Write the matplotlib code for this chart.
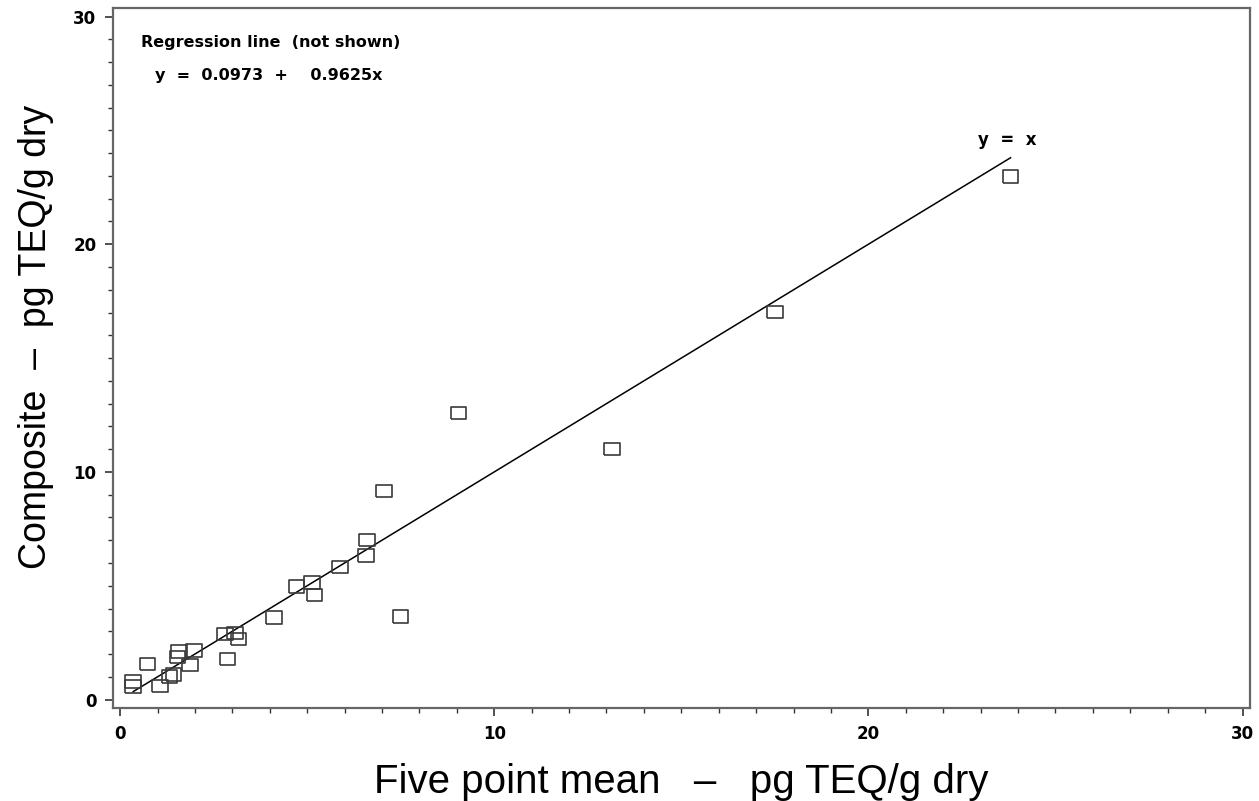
import matplotlib
matplotlib.use("Agg")
import matplotlib.pyplot as plt
from matplotlib.ticker import MultipleLocator

# five point mean vs composite, pg TEQ/g dry
five_point = [0.35, 0.35, 0.73, 1.07, 1.32, 1.43, 1.54, 1.58, 1.87, 1.98,
              2.87, 2.81, 3.07, 3.16, 4.12, 4.71, 5.13, 5.19, 5.88, 6.60,
              6.57, 7.49, 7.06, 9.05, 13.15, 17.51, 23.80]
composite = [0.79, 0.58, 1.56, 0.60, 1.01, 1.10, 1.86, 2.12, 1.52, 2.15,
             1.77, 2.88, 2.92, 2.66, 3.60, 4.96, 5.15, 4.59, 5.83, 7.02,
             6.32, 3.64, 9.17, 12.59, 11.00, 17.02, 22.98]

tick_vals = [0, 10, 20, 30]

plt.rcParams['font.family'] = ['Liberation Sans', 'DejaVu Sans']

fig = plt.figure(figsize=(12.59, 8.01), dpi=100)
ax = fig.add_axes([113 / 1259, 1 - 708 / 801, (1250 - 113) / 1259, (708 - 7.5) / 801])

# SAS style open box, a bit wider than tall
box = [(-1.25, -1), (1.25, -1), (1.25, 1), (-1.25, 1), (-1.25, -1)]

# y = x reference line across the data range
lo, hi = min(five_point), max(five_point)
ax.plot([lo, hi], [lo, hi], color='black', lw=1.1)
ax.scatter(five_point, composite, marker=box, s=125, facecolors='none',
           edgecolors='#3a3a3a', linewidths=1.2, zorder=3)

ax.set_xlim(-0.19, 30.2)
ax.set_ylim(-0.37, 30.4)
ax.xaxis.set_minor_locator(MultipleLocator(1))
ax.yaxis.set_minor_locator(MultipleLocator(1))
ax.set_xticks(tick_vals)
ax.set_yticks(tick_vals)
ax.tick_params(which='major', length=6, width=1.2, color='#333333',
               labelsize=12, pad=6)
ax.tick_params(which='minor', length=3.5, width=1.0, color='#333333')
for lab in ax.get_xticklabels() + ax.get_yticklabels():
    lab.set_fontweight('bold')
    lab.set_family('DejaVu Sans')
for sp in ax.spines.values():
    sp.set_color('#666666')
    sp.set_linewidth(1.6)

ax.set_xlabel('Five point mean   \u2013   pg TEQ/g dry', fontsize=29)
ax.set_ylabel('Composite  \u2013  pg TEQ/g dry', fontsize=27)
ax.xaxis.set_label_coords(0.5, -0.079)
ax.yaxis.set_label_coords(-0.052, 0.529)

ax.text(23.7, 24.6, 'y  =  x', fontsize=12, fontweight='bold',
        family='DejaVu Sans', ha='center', va='center')
ax.text(0.57, 28.87, 'Regression line  (not shown)', fontsize=11.5,
        fontweight='bold', family='DejaVu Sans', ha='left', va='center')
ax.text(0.94, 27.42, 'y  =  0.0973  +    0.9625x', fontsize=11.5,
        fontweight='bold', family='DejaVu Sans', ha='left', va='center')

fig.savefig('out.png', dpi=100)
